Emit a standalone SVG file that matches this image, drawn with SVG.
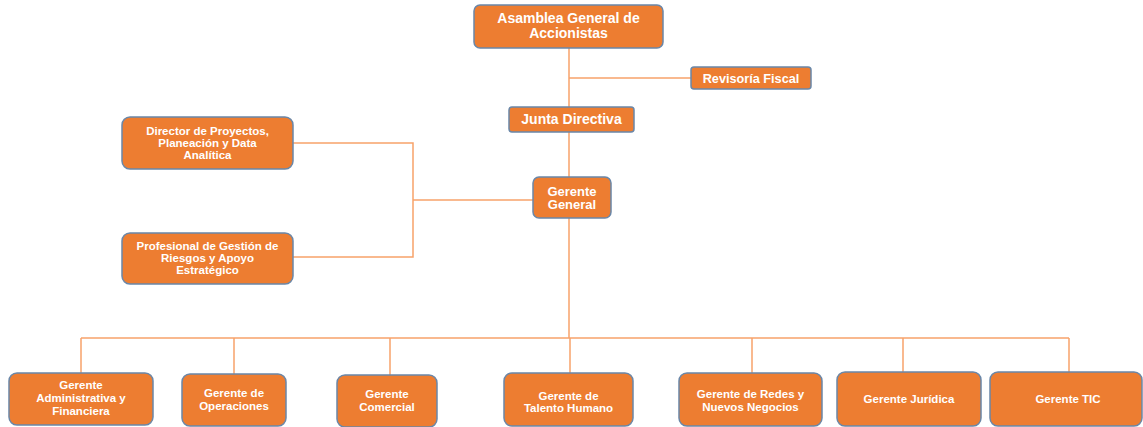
<svg xmlns="http://www.w3.org/2000/svg" width="1143" height="427" viewBox="0 0 1143 427">
<style>
.box{fill:#ED7D31;stroke:#6A87A8;stroke-width:1.5}
.t{font-family:"Liberation Sans",Arial,sans-serif;font-weight:bold;fill:#FFFFFF;text-anchor:middle}
.ln{stroke:#F7A26A;stroke-width:1.5;fill:none}
</style>
<rect width="1143" height="427" fill="#FFFFFF"/>
<g id="connectors">
<path class="ln" d="M569,48 V107"/>
<path class="ln" d="M569,78 H691"/>
<path class="ln" d="M569,132 V177"/>
<path class="ln" d="M569,218 V338"/>
<path class="ln" d="M533,200 H413"/>
<path class="ln" d="M293,143 H413 V257 H293"/>
<path class="ln" d="M81,338 H1069"/>
<path class="ln" d="M81,338 V373"/>
<path class="ln" d="M234,338 V374"/>
<path class="ln" d="M390,338 V375"/>
<path class="ln" d="M570,338 V373"/>
<path class="ln" d="M752,338 V373"/>
<path class="ln" d="M903,338 V372"/>
<path class="ln" d="M1069,338 V372"/>
</g>
<g id="asamblea">
<rect class="box" x="474" y="5" width="189" height="43" rx="6"/>
<text class="t" font-size="14" x="568.5" y="23">Asamblea General de</text>
<text class="t" font-size="14" x="568.5" y="38">Accionistas</text>
</g>
<g id="revisoria">
<rect class="box" x="691" y="67" width="120" height="22" rx="3"/>
<text class="t" font-size="12.7" x="751" y="83">Revisoría Fiscal</text>
</g>
<g id="junta">
<rect class="box" x="509" y="107" width="125" height="25" rx="3"/>
<text class="t" font-size="14" x="571.5" y="124">Junta Directiva</text>
</g>
<g id="gerente-general">
<rect class="box" x="533" y="177" width="78" height="41" rx="6"/>
<text class="t" font-size="13" x="572" y="196">Gerente</text>
<text class="t" font-size="13" x="572" y="209">General</text>
</g>
<g id="director">
<rect class="box" x="122" y="117" width="171" height="52" rx="8"/>
<text class="t" font-size="11.5" x="207.5" y="135">Director de Proyectos,</text>
<text class="t" font-size="11.5" x="207.5" y="147">Planeación y Data</text>
<text class="t" font-size="11.5" x="207.5" y="159">Analítica</text>
</g>
<g id="profesional">
<rect class="box" x="122" y="233" width="171" height="51" rx="8"/>
<text class="t" font-size="11.5" x="207.5" y="250">Profesional de Gestión de</text>
<text class="t" font-size="11.5" x="207.5" y="262">Riesgos y Apoyo</text>
<text class="t" font-size="11.5" x="207.5" y="274">Estratégico</text>
</g>
<g id="g-administrativa">
<rect class="box" x="9" y="373" width="144" height="52" rx="8"/>
<text class="t" font-size="11.5" x="81" y="389">Gerente</text>
<text class="t" font-size="11.5" x="81" y="402">Administrativa y</text>
<text class="t" font-size="11.5" x="81" y="415">Financiera</text>
</g>
<g id="g-operaciones">
<rect class="box" x="182" y="374" width="104" height="52" rx="8"/>
<text class="t" font-size="11.5" x="234" y="397">Gerente de</text>
<text class="t" font-size="11.5" x="234" y="410">Operaciones</text>
</g>
<g id="g-comercial">
<rect class="box" x="337" y="375" width="100" height="52" rx="8"/>
<text class="t" font-size="11.5" x="387" y="398">Gerente</text>
<text class="t" font-size="11.5" x="387" y="411">Comercial</text>
</g>
<g id="g-talento">
<rect class="box" x="504" y="373" width="129" height="53" rx="8"/>
<text class="t" font-size="11.5" x="568.5" y="400">Gerente de</text>
<text class="t" font-size="11.5" x="568.5" y="412">Talento Humano</text>
</g>
<g id="g-redes">
<rect class="box" x="679" y="373" width="143" height="53" rx="8"/>
<text class="t" font-size="11.5" x="750.5" y="398">Gerente de Redes y</text>
<text class="t" font-size="11.5" x="750.5" y="411">Nuevos Negocios</text>
</g>
<g id="g-juridica">
<rect class="box" x="837" y="372" width="144" height="54" rx="8"/>
<text class="t" font-size="11.5" x="909" y="403">Gerente Jurídica</text>
</g>
<g id="g-tic">
<rect class="box" x="990" y="372" width="152" height="54" rx="8"/>
<text class="t" font-size="11.5" x="1068" y="403">Gerente TIC</text>
</g>
</svg>
